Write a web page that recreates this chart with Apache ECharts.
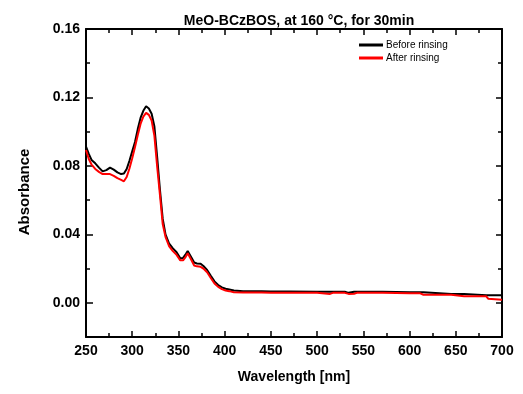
<!DOCTYPE html>
<html><head><meta charset="utf-8">
<script src="https://cdn.jsdelivr.net/npm/echarts@6/dist/echarts.min.js"></script>
<style>html,body{margin:0;padding:0;background:#fff}#c{width:523px;height:394px}</style>
</head><body><div id="c"></div>
<script>
const wavelength = [250,253,256,260,264,268,272,276,280,284,288,291,294,297,300,303,306,309,312,315,318,321,324,327,330,333,336,340,344,348,352,355,358,360,364,367,370,374,377,381,385,389,393,397,401,405,410,420,430,440,450,470,500,514,517,530,534,540,543,560,571,573,600,611,613,615,617,645,647,659,661,683,685,700];
const before = [0.0913,0.087,0.0835,0.0815,0.079,0.0768,0.0775,0.079,0.0778,0.0762,0.0752,0.0755,0.0782,0.083,0.0885,0.094,0.1015,0.108,0.1122,0.1148,0.1135,0.1105,0.103,0.085,0.066,0.049,0.04,0.0345,0.0318,0.0295,0.026,0.0262,0.0285,0.0302,0.0265,0.0235,0.023,0.0228,0.0215,0.0192,0.0158,0.0125,0.0104,0.009,0.0082,0.0078,0.0072,0.0068,0.0068,0.0068,0.0066,0.0066,0.0065,0.0065,0.0065,0.0064,0.0058,0.0064,0.0064,0.0064,0.0064,0.0062,0.0062,0.0062,0.0062,0.0062,0.0052,0.0052,0.0052,0.0052,0.0044,0.0044,0.0044,0.0044];
const after = [0.0893,0.084,0.0808,0.0782,0.0765,0.0752,0.0752,0.0752,0.0742,0.0728,0.0718,0.071,0.0735,0.0785,0.0845,0.091,0.098,0.1045,0.1088,0.111,0.1098,0.1065,0.0975,0.0795,0.063,0.046,0.0385,0.033,0.0302,0.028,0.0248,0.0248,0.027,0.029,0.025,0.0218,0.0213,0.021,0.02,0.0178,0.0145,0.0113,0.0093,0.008,0.0072,0.0068,0.0062,0.006,0.006,0.006,0.0058,0.0058,0.0058,0.0052,0.0058,0.0058,0.0052,0.0053,0.0058,0.0058,0.0058,0.0056,0.0056,0.0056,0.0047,0.0047,0.0047,0.0047,0.0038,0.0038,0.0038,0.0038,0.0024,0.0018];
const yLabels = [0, 0.04, 0.08, 0.12, 0.16];
const yMinor = [0.02, 0.06, 0.10, 0.14];
const seriesNames = ['Before rinsing', 'After rinsing'];
const titleText = 'MeO-BCzBOS, at 160 \u00B0C, for 30min';

const F = 'Arial, "Liberation Sans", sans-serif';
const chart = echarts.init(document.getElementById('c'), null, {renderer: 'canvas'});
const lineStyleAxis = {color: '#000', width: 2};
const xBase = {type: 'value', min: 250, max: 700, interval: 50,
  axisLine: {show: true, onZero: false, lineStyle: lineStyleAxis},
  axisTick: {show: true, inside: true, length: 6, lineStyle: {color: '#000', width: 1.5}},
  minorTick: {show: true, splitNumber: 2, length: 4, lineStyle: {color: '#000', width: 1.5}},
  splitLine: {show: false}};
const yBase = {type: 'value', min: -0.02, max: 0.16, interval: 0.02,
  axisLine: {show: true, onZero: false, lineStyle: lineStyleAxis},
  splitLine: {show: false}};
chart.setOption({
  animation: false,
  title: {text: titleText, left: 294, textAlign: 'center', top: 9,
    textStyle: {fontFamily: F, fontWeight: 'bold', fontSize: 14, color: '#000'}},
  grid: {left: 86, right: 21, top: 29, bottom: 57, containLabel: false},
  legend: {orient: 'vertical', left: 359, top: 40, itemWidth: 24, itemHeight: 3, itemGap: 3,
    padding: 0, icon: 'rect', data: seriesNames,
    textStyle: {fontFamily: F, fontSize: 10, color: '#000', padding: [0,0,0,-2]}},
  xAxis: [
    Object.assign({}, xBase, {position: 'bottom', name: 'Wavelength [nm]', nameLocation: 'middle', nameGap: 33,
      nameTextStyle: {fontFamily: F, fontWeight: 'bold', fontSize: 14, color: '#000'},
      axisLabel: {show: true, margin: 7, fontFamily: F, fontWeight: 'bold', fontSize: 14, color: '#000'}}),
    Object.assign({}, xBase, {position: 'top', axisLabel: {show: false}})
  ],
  yAxis: [
    Object.assign({}, yBase, {position: 'left', name: 'Absorbance', nameLocation: 'middle', nameGap: 54,
      nameTextStyle: {fontFamily: F, fontWeight: 'bold', fontSize: 15, color: '#000', padding: [0, 18, 0, 0]},
      axisTick: {show: true, inside: true, length: 7, customValues: yLabels, lineStyle: {color: '#000', width: 1.5}},
      axisLabel: {show: true, margin: 6, customValues: yLabels, formatter: v => v.toFixed(2),
        fontFamily: F, fontWeight: 'bold', fontSize: 14, color: '#000'}}),
    Object.assign({}, yBase, {position: 'left', axisLine: {show: false},
      axisTick: {show: true, inside: true, length: 4, customValues: yMinor, lineStyle: {color: '#000', width: 1.5}},
      axisLabel: {show: false}}),
    Object.assign({}, yBase, {position: 'right',
      axisTick: {show: true, inside: true, length: 6, customValues: yLabels, lineStyle: {color: '#000', width: 1.5}},
      axisLabel: {show: false}}),
    Object.assign({}, yBase, {position: 'right', axisLine: {show: false},
      axisTick: {show: true, inside: true, length: 4, customValues: yMinor, lineStyle: {color: '#000', width: 1.5}},
      axisLabel: {show: false}})
  ],
  series: [
    {name: seriesNames[0], type: 'line', xAxisIndex: 0, yAxisIndex: 0, showSymbol: false, symbol: 'none',
      color: '#000000', lineStyle: {width: 2, color: '#000000'},
      data: wavelength.map((w, i) => [w, before[i]])},
    {name: seriesNames[1], type: 'line', xAxisIndex: 0, yAxisIndex: 0, showSymbol: false, symbol: 'none',
      color: '#ff0000', lineStyle: {width: 2, color: '#ff0000'},
      data: wavelength.map((w, i) => [w, after[i]])}
  ]
});
</script></body></html>
